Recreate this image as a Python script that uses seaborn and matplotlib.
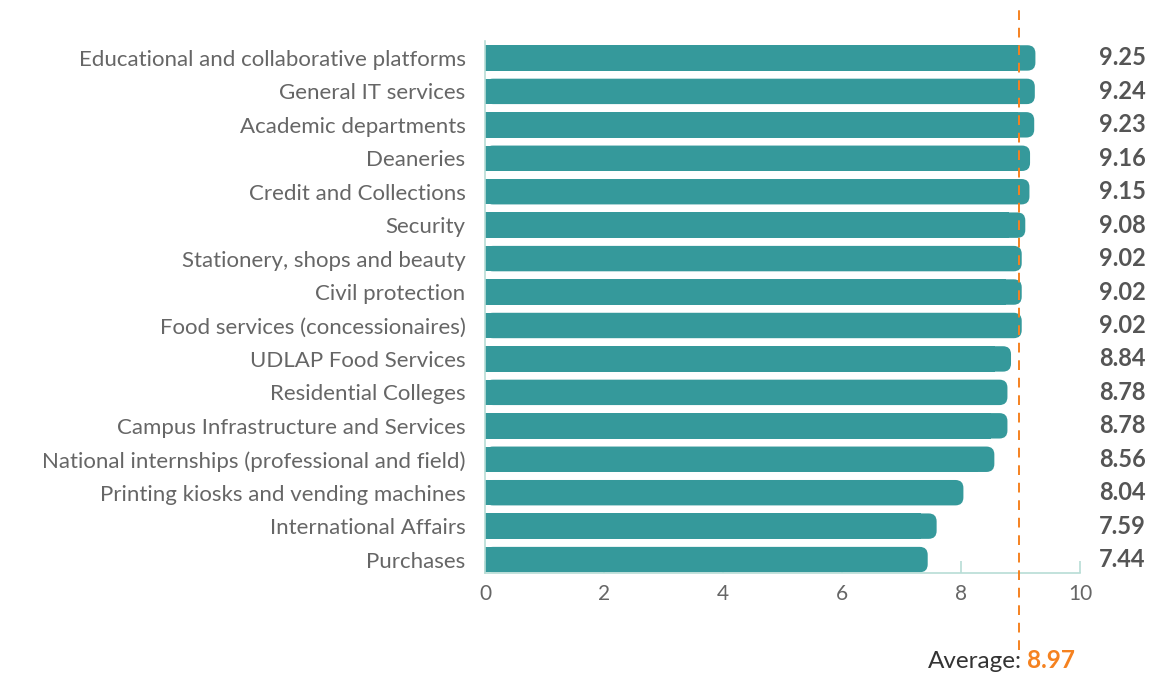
import matplotlib
matplotlib.use("Agg")
import matplotlib.pyplot as plt
from matplotlib.patches import FancyBboxPatch, Rectangle
import seaborn as sns
import pandas as pd

categories = [
    "Educational and collaborative platforms", "General IT services", "Academic departments",
    "Deaneries", "Credit and Collections", "Security", "Stationery, shops and beauty",
    "Civil protection", "Food services (concessionaires)", "UDLAP Food Services",
    "Residential Colleges", "Campus Infrastructure and Services",
    "National internships (professional and field)", "Printing kiosks and vending machines",
    "International Affairs", "Purchases",
]
values = [9.25, 9.24, 9.23, 9.16, 9.15, 9.08, 9.02, 9.02, 9.02, 8.84, 8.78, 8.78, 8.56, 8.04, 7.59, 7.44]
average = 8.97
xticks = [0, 2, 4, 6, 8, 10]

TEAL = "#35999b"
ORANGE = "#f58220"
SPINE = "#b8ddd6"

sns.set_theme(style="white")
plt.rcParams["font.family"] = ["Lato", "DejaVu Sans"]

df = pd.DataFrame({"cat": categories, "val": values})
fig = plt.figure(figsize=(11.76, 6.87), dpi=100)
ax = fig.add_axes([0.4124, 0.166, 0.506, 0.774])
sns.barplot(data=df, x="val", y="cat", orient="h", color=TEAL, width=0.76,
            saturation=1, ax=ax)

ax.set_xlim(0, 10)
ax.set_ylim(15.4, -0.5)

# rounded right ends
xpx = 0.506 * 1176 / 10
ypx = 0.774 * 687 / 15.9
aspect = xpx / ypx
r = 8 / xpx
for p in list(ax.patches):
    x0, y0, w, h = p.get_x(), p.get_y(), p.get_width(), p.get_height()
    p.set_visible(False)
    ax.add_patch(FancyBboxPatch((x0, y0), w, h, boxstyle=f"round,pad=0,rounding_size={r}",
                                mutation_aspect=aspect, fc=TEAL, ec="none", zorder=2))
    ax.add_patch(Rectangle((x0, y0), w - 2 * r, h, fc=TEAL, ec="none", zorder=2))

ax.set_xlabel("")
ax.set_ylabel("")
ax.set_xticks(xticks)
ax.set_xticklabels([str(t) for t in xticks])
for s in ["top", "right"]:
    ax.spines[s].set_visible(False)
for s in ["left", "bottom"]:
    ax.spines[s].set_color(SPINE)
    ax.spines[s].set_linewidth(1.2)
ax.tick_params(axis="x", direction="in", length=9, width=1.2, color=SPINE,
               labelsize=15, labelcolor="#666666", pad=8, bottom=True)
ax.tick_params(axis="y", length=0, labelsize=16, labelcolor="#666666", pad=14)

for i, v in enumerate(values):
    ax.text(1.0315, i, f"{v:.2f}", transform=ax.get_yaxis_transform(), ha="left", va="center",
            fontsize=17, fontweight="bold", color="#555555", clip_on=False)

ax.axvline(average, ymin=-0.145, ymax=1.068, color=ORANGE, lw=1.4, ls=(0, (5, 4)),
           clip_on=False, zorder=3)

fig.text(0.869, 0.027, "Average:", ha="right", va="baseline", fontsize=17.5, color="#333333")
fig.text(0.873, 0.027, f"{average:.2f}", ha="left", va="baseline", fontsize=17.5,
         fontweight="bold", color=ORANGE)

fig.savefig("out.png", dpi=100)
